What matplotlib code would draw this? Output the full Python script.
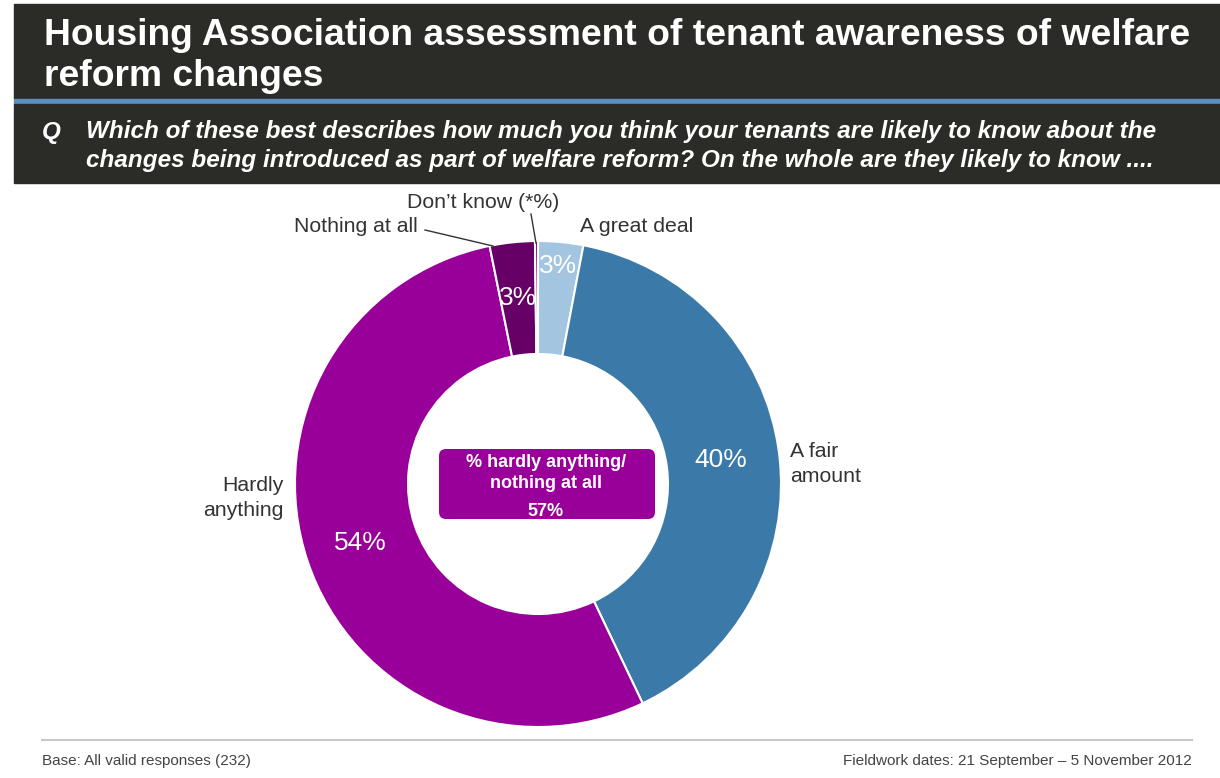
import numpy as np
import matplotlib.pyplot as plt
from matplotlib.patches import Rectangle, FancyBboxPatch

plt.rcParams['font.family'] = ['Liberation Sans', 'DejaVu Sans']

# data
categories = ['A great deal', 'A fair amount', 'Hardly anything', 'Nothing at all', "Don't know"]
values = [3, 40, 54, 3, 0.2]
pct_labels = ['3%', '40%', '54%', '3%', '']
colors = ['#a3c5df', '#3b7aa8', '#990099', '#660066', '#660066']
summary_value = 57

title = 'Housing Association assessment of tenant awareness of welfare\nreform changes'
question = ('Which of these best describes how much you think your tenants are likely to know about the\n'
            'changes being introduced as part of welfare reform? On the whole are they likely to know ....')
base_note = 'Base: All valid responses (232)'
fieldwork_note = 'Fieldwork dates: 21 September \u2013 5 November 2012'

W, H = 1220, 778


def main():
    fig = plt.figure(figsize=(W / 100, H / 100), dpi=100)
    ax = fig.add_axes([0, 0, 1, 1])
    ax.set_xlim(0, W)
    ax.set_ylim(0, H)
    ax.set_aspect('equal')
    ax.axis('off')

    # header bars
    ax.add_patch(Rectangle((14, H - 99), W - 14, 95, color='#2b2b28', zorder=1))
    ax.add_patch(Rectangle((14, H - 104), W - 14, 5, color='#5b8fbf', zorder=1))
    ax.add_patch(Rectangle((14, H - 183), W - 14, 79, color='#2b2b28', zorder=1))
    ax.text(44, H - 56, title, color='white', fontsize=26.8, fontweight='bold',
            va='center', ha='left', linespacing=1.22)
    ax.text(42, H - 132, 'Q', color='white', fontsize=17.5, fontweight='bold',
            style='italic', va='center')
    ax.text(86, H - 146, question, color='white', fontsize=17.5, fontweight='bold',
            style='italic', va='center', linespacing=1.32)

    # donut
    cx, cy, R = 538, H - 484, 243
    wedges, _ = ax.pie(values, colors=colors, startangle=90, counterclock=False,
                       radius=R, center=(cx, cy),
                       wedgeprops=dict(width=R - 130, edgecolor='white', linewidth=1.5))
    ax.set_xlim(0, W)
    ax.set_ylim(0, H)

    dists = [0.9, 0.76, 0.77, 0.77, 0.77]
    for w, lab, d in zip(wedges, pct_labels, dists):
        if not lab:
            continue
        ang = np.deg2rad((w.theta1 + w.theta2) / 2)
        ax.text(cx + d * R * np.cos(ang), cy + d * R * np.sin(ang), lab,
                color='white', fontsize=19, ha='center', va='center')

    # outside labels
    lab_kw = dict(color='#333333', fontsize=15.3)
    ax.text(580, H - 226, 'A great deal', ha='left', va='center', **lab_kw)
    ax.text(790, H - 464, 'A fair\namount', ha='left', va='center', linespacing=1.4, **lab_kw)
    ax.text(283, H - 498, 'Hardly\nanything', ha='right', va='center', linespacing=1.45, **lab_kw)
    ax.text(418, H - 226, 'Nothing at all', ha='right', va='center', **lab_kw)
    ax.text(483, H - 202, 'Don\u2019t know (*%)', ha='center', va='center', **lab_kw)
    ax.plot([425, 493], [H - 230, H - 246], color='#333333', lw=1)
    ax.plot([531, 536], [H - 214, H - 243], color='#333333', lw=1)

    # centre box
    ax.add_patch(FancyBboxPatch((439, H - 519), 216, 70,
                                boxstyle='round,pad=0,rounding_size=7',
                                facecolor='#990099', edgecolor='none', zorder=3))
    ax.text(546, H - 473, '% hardly anything/\nnothing at all', color='white',
            fontsize=13, fontweight='bold', ha='center', va='center',
            linespacing=1.3, zorder=4)
    ax.text(546, H - 511, f'{summary_value}%', color='white', fontsize=13,
            fontweight='bold', ha='center', va='center', zorder=4)

    # footer
    ax.plot([42, 1192], [H - 740, H - 740], color='#c8c8c8', lw=1.5)
    ax.text(42, H - 761, base_note, color='#444444', fontsize=11, ha='left', va='center')
    ax.text(1192, H - 761, fieldwork_note, color='#444444', fontsize=11,
            ha='right', va='center')

    fig.savefig('out.png', dpi=100)


main()
